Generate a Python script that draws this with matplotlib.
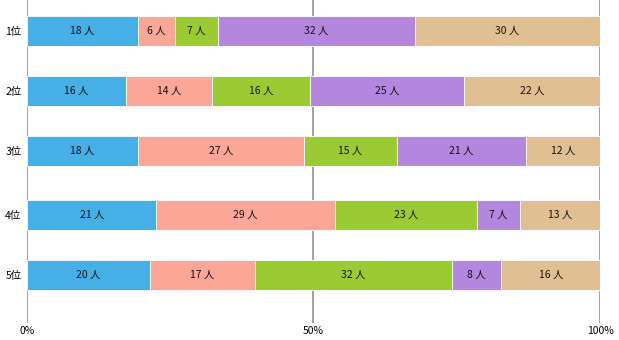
import matplotlib.pyplot as plt
import numpy as np

plt.rcParams['font.family'] = ['Noto Sans CJK JP', 'DejaVu Sans']

ranks = ["1位", "2位", "3位", "4位", "5位"]
counts = [
    [18, 6, 7, 32, 30],
    [16, 14, 16, 25, 22],
    [18, 27, 15, 21, 12],
    [21, 29, 23, 7, 13],
    [20, 17, 32, 8, 16],
]
colors = ["#45afe6", "#fba697", "#9bcb33", "#b287dd", "#e0c092"]
xticks = [0, 50, 100]
xticklabels = ["0%", "50%", "100%"]

fig = plt.figure(figsize=(6.19, 3.40), dpi=100)
ax = fig.add_axes([27 / 619, 1 - 323 / 340, 573 / 619, 323 / 340])

ypos = [31, 91, 151, 215, 275]
data = np.array(counts, dtype=float)
totals = data.sum(axis=1)
pct = data / totals[:, None] * 100

for i, y in enumerate(ypos):
    left = 0
    for j, v in enumerate(pct[i]):
        ax.barh(y, v, left=left, height=30, color=colors[j],
                edgecolor="#ffffff", linewidth=0.6, zorder=3)
        ax.text(left + v / 2, y, f"{counts[i][j]} 人", ha="center", va="center",
                fontsize=7.5, color="#111111", zorder=4)
        left += v

for x in xticks:
    ax.axvline(x, color="#999999", linewidth=1.3, zorder=1)

ax.set_xlim(0, 100)
ax.set_ylim(323, 0)
ax.set_xticks(xticks)
ax.set_xticklabels(xticklabels, fontsize=7.5)
ax.set_yticks(ypos)
ax.set_yticklabels(ranks, fontsize=7.5)
ax.tick_params(length=0, pad=4)
ax.tick_params(axis="x", pad=2)
for s in ax.spines.values():
    s.set_visible(False)

fig.savefig("out.png", dpi=100)
